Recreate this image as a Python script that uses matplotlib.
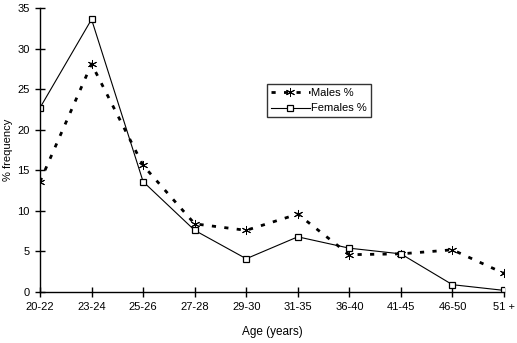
import matplotlib
matplotlib.use("Agg")
import matplotlib.pyplot as plt

categories = ["20-22", "23-24", "25-26", "27-28", "29-30", "31-35", "36-40", "41-45", "46-50", "51 +"]
males = [13.6, 28.1, 15.6, 8.4, 7.6, 9.6, 4.6, 4.7, 5.2, 2.3]
females = [22.7, 33.6, 13.6, 7.6, 4.1, 6.8, 5.4, 4.7, 0.9, 0.2]
yticks = [0, 5, 10, 15, 20, 25, 30, 35]

plt.rcParams['font.family'] = ['Liberation Sans', 'DejaVu Sans']

W, H = 517, 343
fig = plt.figure(figsize=(W / 100, H / 100), dpi=100)
ax = fig.add_axes([40 / W, (H - 292) / H, (504 - 40) / W, (292 - 8) / H])

x = list(range(len(categories)))
ax.plot(x, males, color='black', linewidth=2, linestyle=(0, (1.5, 3)),
        marker=(6, 2, 0), markersize=6.5, markeredgewidth=0.7, label='Males %')
ax.plot(x, females, color='black', linewidth=0.8, linestyle='-',
        marker='s', markersize=5, markerfacecolor='white', markeredgewidth=0.9,
        label='Females %')

ax.set_xlim(0, len(categories) - 1)
ax.set_ylim(0, 35)
ax.set_xticks(x)
ax.set_xticklabels(categories)
ax.set_yticks(yticks)
ax.spines['top'].set_visible(False)
ax.spines['right'].set_visible(False)
for s in ('left', 'bottom'):
    ax.spines[s].set_linewidth(1.0)
ax.tick_params(direction='inout', length=7, width=1, labelsize=8, pad=4)
ax.set_xlabel('Age (years)', fontsize=8.5, labelpad=10)
ax.set_ylabel('% frequency', fontsize=8, labelpad=3)

leg = ax.legend(loc='upper left', bbox_to_anchor=(267 / W, 1 - 84 / H), bbox_transform=fig.transFigure,
                frameon=True, fancybox=False, edgecolor='black', fontsize=8,
                handlelength=3.5, handletextpad=0.1, borderpad=0.35, labelspacing=0.5,
                borderaxespad=0)
leg.get_frame().set_linewidth(1.0)

fig.savefig('out.png', dpi=100)
